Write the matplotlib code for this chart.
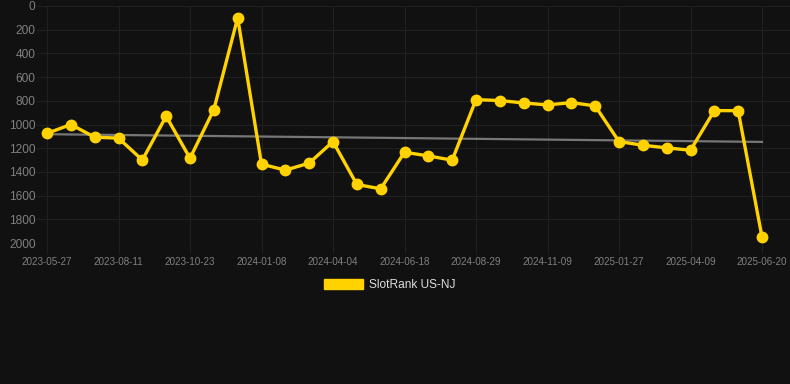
import numpy as np
import matplotlib
matplotlib.use("Agg")
import matplotlib.pyplot as plt
from matplotlib.patches import Patch

plt.rcParams['font.family'] = ['Liberation Sans', 'DejaVu Sans']

# ---- data ----
tick_labels = ["2023-05-27", "2023-08-11", "2023-10-23", "2024-01-08", "2024-04-04",
               "2024-06-18", "2024-08-29", "2024-11-09", "2025-01-27", "2025-04-09",
               "2025-06-20"]
ranks = [1075, 1000, 1107, 1115, 1300, 930, 1285, 874, 100, 1335,
         1385, 1326, 1144, 1506, 1543, 1234, 1265, 1301, 790, 798,
         818, 835, 815, 843, 1144, 1175, 1197, 1217, 883, 883, 1950]
trend_ends = [1082, 1147]
series_name = "SlotRank US-NJ"

W, H = 790, 384
fig = plt.figure(figsize=(W / 100, H / 100), dpi=100, facecolor="#111111")
ax_left, ax_right, ax_top, ax_bot = 37, 790, 6, 243
ax = fig.add_axes([ax_left / W, 1 - ax_bot / H, (ax_right - ax_left) / W, (ax_bot - ax_top) / H])
ax.set_facecolor("#111111")

n = len(ranks)
x = np.arange(n)
px_per = (762 - 47) / (n - 1)
ax.set_xlim(-(47 - ax_left) / px_per, (n - 1) + (ax_right - 762) / px_per)
ax.set_ylim(2000, 0)

# trend
ax.plot([0, n - 1], trend_ends, color="#777777", lw=1.6, zorder=2)
# series
ax.plot(x, ranks, color="#FFD200", lw=2.4, marker="o", markersize=7.5,
        markerfacecolor="#FFD200", markeredgecolor="#FFD200", zorder=3)

tick_pos = list(range(0, n, 3))
ax.set_xticks(tick_pos)
ax.set_xticklabels(tick_labels)
ax.set_yticks(np.arange(0, 2001, 200))
ax.set_yticklabels([str(v) for v in range(0, 2001, 200)])

grid_c = "#202020"
ax.grid(True, color=grid_c, lw=0.8)
ax.set_axisbelow(True)
for s in ax.spines.values():
    s.set_visible(False)
ax.tick_params(axis="x", colors=grid_c, labelcolor="#808080", labelsize=7.1, length=7, pad=3)
ax.tick_params(axis="y", length=0, labelcolor="#808080", labelsize=8.6, pad=1)

handle = Patch(facecolor="#FFD200", edgecolor="#FFD200")
leg = fig.legend(handles=[handle], labels=[series_name], loc="center",
                 bbox_to_anchor=(390 / W, 1 - 285 / H), frameon=False,
                 fontsize=8.6, handlelength=3.3, handleheight=1.0, handletextpad=0.5)
for t in leg.get_texts():
    t.set_color("#dddddd")

fig.savefig("out.png", dpi=100, facecolor=fig.get_facecolor())
